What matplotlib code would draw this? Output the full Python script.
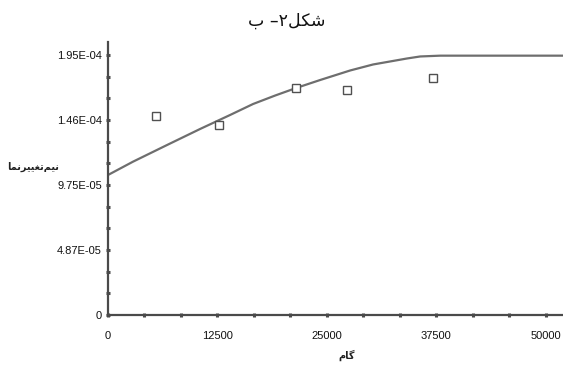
import matplotlib
matplotlib.use("Agg")
import matplotlib.pyplot as plt
from matplotlib.ticker import MultipleLocator, FixedLocator

# Experimental semivariogram points (lag, gamma)
lag = [5450, 12700, 21450, 27350, 37150]
gamma = [1.49e-4, 1.425e-4, 1.70e-4, 1.69e-4, 1.775e-4]

# Fitted model curve
model_x = [0, 2860, 6750, 10520, 13950, 16580, 19100, 21500, 24250, 27680,
           30300, 34160, 35680, 37970, 52000]
model_y = [1.05e-4, 1.15e-4, 1.275e-4, 1.395e-4, 1.50e-4, 1.5825e-4, 1.646e-4, 1.7025e-4,
           1.7625e-4, 1.834e-4, 1.879e-4, 1.9237e-4, 1.939e-4, 1.945e-4, 1.945e-4]

x_ticks = [0, 12500, 25000, 37500, 50000]
y_ticks = [0, 4.875e-5, 9.75e-5, 1.4625e-4, 1.95e-4]
y_tick_labels = ['0', '4.87E-05', '9.75E-05', '1.46E-04', '1.95E-04']

# Persian texts, pre-shaped (presentation forms, left-to-right glyph order)
title_txt = "\uFE8F \u2013\u06F2\uFEDE\uFB91\uFEB7"                      # شکل۲– ب
ylabel_txt = "\uFE8E\uFEE4\uFEE7\uFEAE\uFBFF\uFBFF\uFED0\uFE97\uFEE2\uFBFF\uFEE7"  # نیم‌تغییرنما
xlabel_txt = "\uFEE1\uFE8E\uFB94"                                       # گام

W, H = 563, 372
fig = plt.figure(figsize=(W / 100, H / 100), dpi=100)
ax = fig.add_axes([108 / W, 57 / H, 455 / W, 273 / H])

ax.plot(model_x, model_y, color='#6e6e6e', lw=1.6, zorder=2)
ax.plot(lag, gamma, ls='none', marker='s', ms=5.5, mfc='white', mec='#505050', mew=1.0, zorder=3)

ax.set_xlim(0, 52000)
ax.set_ylim(0, 2.0475e-4)

for s in ['top', 'right']:
    ax.spines[s].set_visible(False)
for s in ['left', 'bottom']:
    ax.spines[s].set_color('#4a4a4a')
    ax.spines[s].set_linewidth(1.6)

tick_font = 'Liberation Sans'
ax.xaxis.set_major_locator(FixedLocator(x_ticks))
ax.xaxis.set_minor_locator(MultipleLocator(12500 / 3))
ax.set_xticklabels([str(v) for v in x_ticks], fontfamily=tick_font, fontsize=8,
                   color='#111111')
ax.yaxis.set_major_locator(FixedLocator(y_ticks))
ax.yaxis.set_minor_locator(MultipleLocator(1.625e-5))
ax.set_yticklabels(y_tick_labels, fontfamily=tick_font, fontsize=8,
                   color='#111111')

ax.tick_params(which='both', direction='inout', length=3, width=2.2, color='#4a4a4a')
ax.tick_params(axis='x', which='major', pad=10)
ax.tick_params(axis='y', which='major', pad=3)

fig.text(287 / W, 1 - 21 / H, title_txt, family='DejaVu Sans', fontsize=12.5,
         ha='center', va='center', color='#111111')
fig.text(33 / W, 1 - 167 / H, ylabel_txt, family='DejaVu Sans', fontsize=7,
         fontweight='bold', ha='center', va='center', color='#222222')
fig.text(347 / W, 1 - 355 / H, xlabel_txt, family='DejaVu Sans', fontsize=7,
         fontweight='bold', ha='center', va='center', color='#222222')

fig.savefig('out.png', dpi=100, facecolor='white')
